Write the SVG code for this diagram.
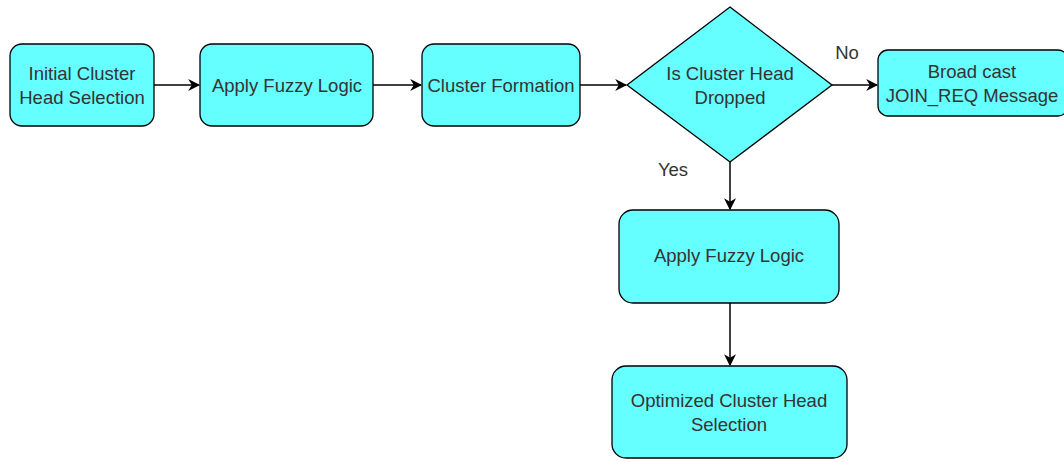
<svg xmlns="http://www.w3.org/2000/svg" width="1064" height="462" viewBox="0 0 1064 462">
<style>
.n{fill:#66ffff;stroke:#000;stroke-width:1.3}
.t{font-family:"Liberation Sans",Arial,sans-serif;font-size:18.5px;fill:#333;text-anchor:middle}
.e{stroke:#000;stroke-width:1.5;fill:none;marker-end:url(#a)}
</style>
<defs>
<marker id="a" viewBox="0 0 10 10" refX="9" refY="5" markerWidth="12" markerHeight="12" markerUnits="userSpaceOnUse" orient="auto">
<path d="M0,0 L10,5 L0,10 L3,5 Z" fill="#000"/>
</marker>
</defs>
<rect width="1064" height="462" fill="#fff"/>
<g id="connectors">
<line class="e" x1="154" y1="85" x2="199" y2="85"/>
<line class="e" x1="373" y1="85" x2="421" y2="85"/>
<line class="e" x1="580" y1="85" x2="626" y2="85"/>
<line class="e" x1="832" y1="85" x2="877" y2="85"/>
<line class="e" x1="730" y1="162" x2="730" y2="209"/>
<line class="e" x1="730" y1="303" x2="730" y2="365"/>
<text class="t" x="847" y="59">No</text>
<text class="t" x="673" y="176">Yes</text>
</g>
<g id="n1"><rect class="n" x="10" y="44" width="144" height="82" rx="12"/><text class="t" x="82" y="80">Initial Cluster</text><text class="t" x="82" y="104">Head Selection</text></g>
<g id="n2"><rect class="n" x="200" y="44" width="173" height="82" rx="12"/><text class="t" x="287" y="92">Apply Fuzzy Logic</text></g>
<g id="n3"><rect class="n" x="422" y="44" width="158" height="82" rx="12"/><text class="t" x="501" y="92">Cluster Formation</text></g>
<g id="n4"><polygon class="n" points="730,7 832,85 730,162 627,85"/><text class="t" x="730" y="80">Is Cluster Head</text><text class="t" x="730" y="104">Dropped</text></g>
<g id="n5"><rect class="n" x="878" y="50" width="190" height="66" rx="10"/><text class="t" x="972" y="78">Broad cast</text><text class="t" x="972" y="102">JOIN_REQ Message</text></g>
<g id="n6"><rect class="n" x="619" y="210" width="220" height="93" rx="14"/><text class="t" x="729" y="262">Apply Fuzzy Logic</text></g>
<g id="n7"><rect class="n" x="612" y="366" width="235" height="92" rx="14"/><text class="t" x="729" y="407">Optimized Cluster Head</text><text class="t" x="729" y="431">Selection</text></g>
</svg>
